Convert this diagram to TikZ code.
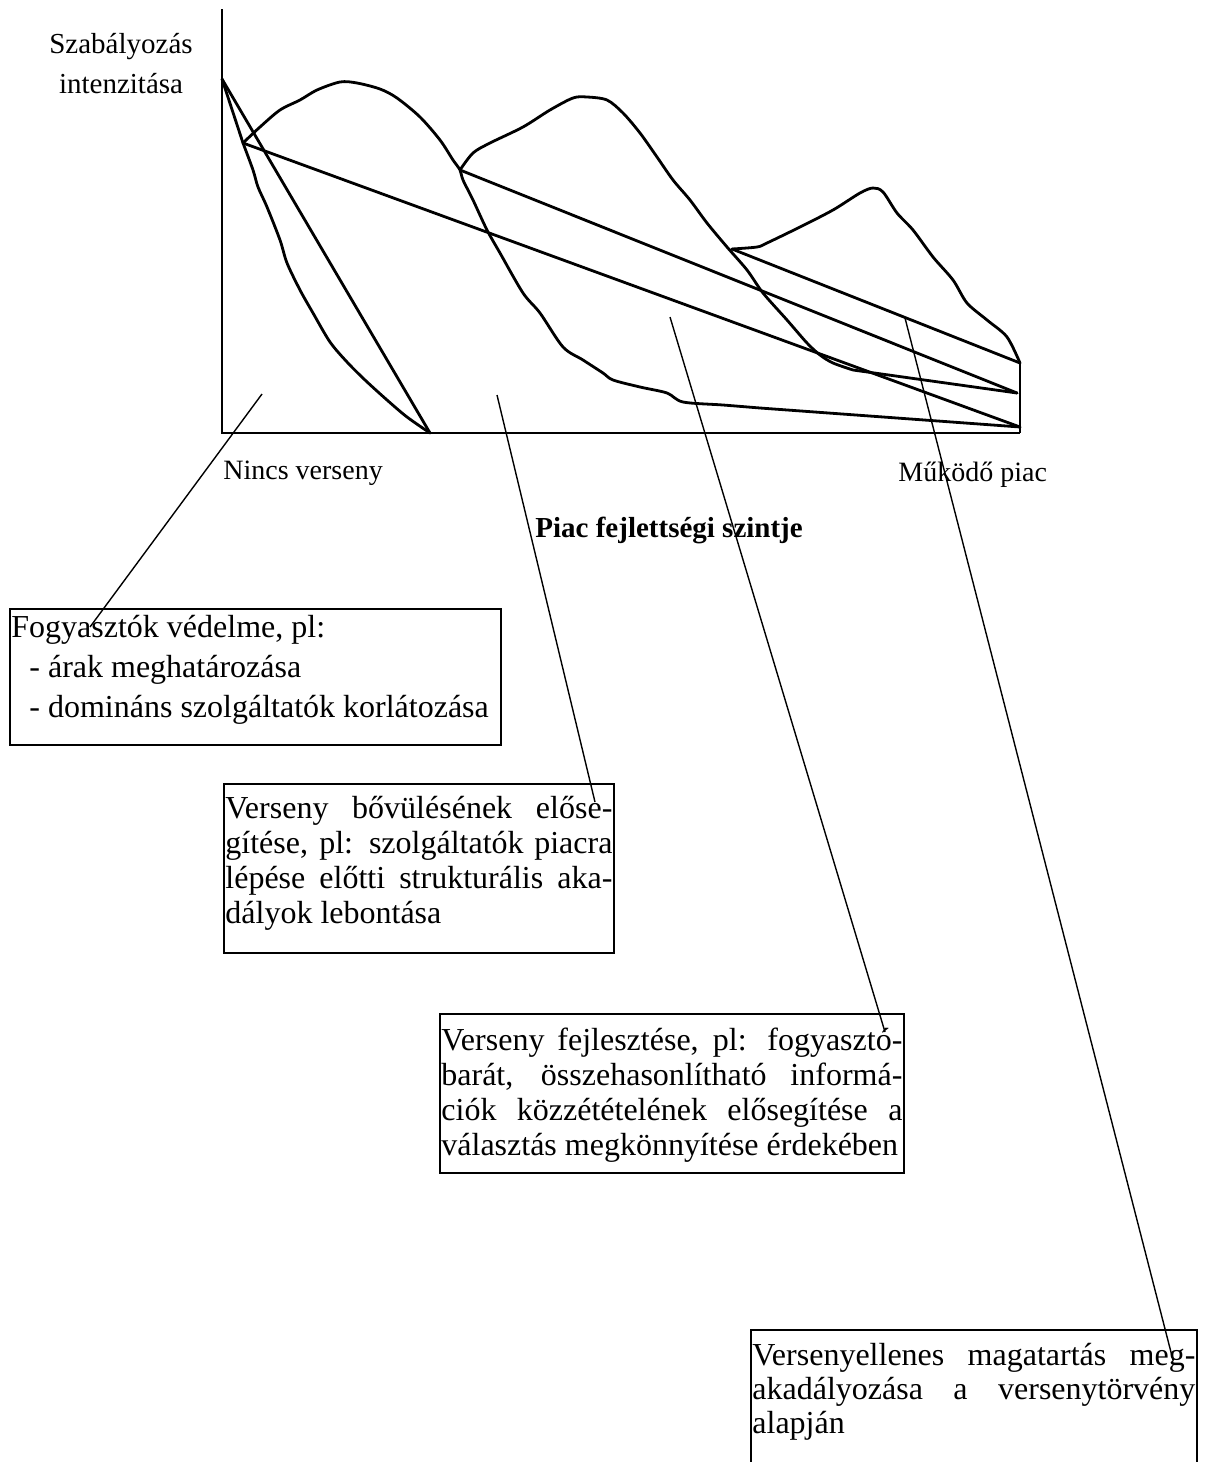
\documentclass[tikz,border=0pt]{standalone}
\usepackage{fontspec}
\setmainfont{Liberation Serif}
\newcommand{\bxt}[3]{\parbox[t]{#1}{\fontsize{16pt}{#2}\selectfont #3}}
\newcommand{\jline}[1]{\makebox[\linewidth][s]{#1}}
\tikzset{
  curve/.style={line width=1.4pt, line join=round, line cap=round},
  axisline/.style={line width=1.2pt},
  callout/.style={line width=0.7pt},
  textbox/.style={draw, line width=0.9pt, inner sep=0pt, anchor=north west},
  boxtxt/.style={inner sep=0pt, anchor=base west},
  lbl/.style={inner sep=0pt, font=\fontsize{14pt}{16pt}\selectfont},
}
\begin{document}
\begin{tikzpicture}[x=0.5pt,y=-0.5pt]
\useasboundingbox (0,0) rectangle (1212,1462);
\fill[white] (0,0) rectangle (1212,1462);
\clip (0,0) rectangle (1212,1462);

% key points
\coordinate (A) at (222,79);
\coordinate (B) at (243,143);
\coordinate (C) at (430,433);
\coordinate (L2) at (460,170);
\coordinate (L3) at (732,249);
\coordinate (R1) at (1020,427);
\coordinate (R2) at (1017,393);
\coordinate (R3) at (1020,363);
\coordinate (O) at (222,433);
\coordinate (Ytop) at (222,9);
\coordinate (Xend) at (1020,433);

% axes
\draw[axisline] (Ytop) -- (O) -- (Xend);
\draw[axisline] (R3) -- (Xend);

% labels
\node[lbl, anchor=base, font=\fontsize{14.5pt}{16pt}\selectfont] (ylab1) at (121,53) {Szabályozás};
\node[lbl, anchor=base, font=\fontsize{14.5pt}{16pt}\selectfont] (ylab2) at (121,93) {intenzitása};
\node[lbl, anchor=base west] (xl) at (223,479) {Nincs verseny};
\node[lbl, anchor=base west] (xr) at (898,481) {Működő piac};
\node[inner sep=0pt, anchor=base west, font=\fontsize{14.5pt}{17pt}\selectfont\bfseries] (xtitle) at (535,537) {Piac fejlettségi szintje};

% curves
\draw[curve] (A) -- (B);
\draw[curve] plot[smooth, tension=0.5] coordinates {(243,143) (253,170) (258,187) (267,207) (280,240) (287,263) (300,290) (313,313) (330,342) (347,362) (365,380) (387,400) (407,417) (430,433)};
\draw[curve] (A) -- (C);
\draw[curve] plot[smooth, tension=0.5] coordinates {(243,143) (260,127) (280,110) (300,100) (317,90) (340,82) (357,83) (380,89) (397,98) (420,117) (440,140) (453,160) (460,170) (463,180) (473,200) (487,230) (500,253) (523,293) (540,313) (563,347) (583,360) (603,373) (613,380) (640,387) (667,393) (683,402) (723,405) (760,408)} -- (R1);
\draw[curve] plot[smooth, tension=0.5] coordinates {(460,170) (473,153) (490,143) (523,127) (550,110) (573,98) (587,97) (607,100) (623,113) (640,133) (657,157) (673,180) (690,200) (707,223) (727,247) (747,270) (763,293) (787,320) (807,343) (820,355) (833,363) (853,370)} -- (R2);
\draw[curve] plot[smooth, tension=0.5] coordinates {(732,249) (757,247) (767,243) (800,227) (833,210) (860,193) (873,188) (883,192) (897,213) (913,230) (933,257) (953,280) (967,303) (987,320) (1007,337) (1020,363)};
\draw[curve] (B) -- (R1);
\draw[curve] (L2) -- (R2);
\draw[curve] (L3) -- (R3);

% boxes
\node[textbox, minimum width=245.5pt, minimum height=68pt] (b1) at (9,608) {};
\node[boxtxt] (t1) at (11,637) {\bxt{240pt}{20pt}{Fogyasztók védelme, pl:\\
\hspace*{9pt}- árak meghatározása\\
\hspace*{9pt}- domináns szolgáltatók korlátozása}};

\node[textbox, minimum width=195pt, minimum height=84.5pt] (b2) at (223,783) {};
\node[boxtxt] (t2) at (225,818) {\bxt{193.5pt}{17.5pt}{\jline{Verseny bővülésének előse-}\\
\jline{gítése, pl: szolgáltatók piacra}\\
\jline{lépése előtti strukturális aka-}\\
dályok lebontása}};

\node[textbox, minimum width=232pt, minimum height=79.5pt] (b3) at (439,1013) {};
\node[boxtxt] (t3) at (441,1050) {\bxt{230.5pt}{17.5pt}{\jline{Verseny fejlesztése, pl: fogyasztó-}\\
\jline{barát, összehasonlítható informá-}\\
\jline{ciók közzétételének elősegítése a}\\
választás megkönnyítése érdekében}};

\node[textbox, minimum width=223pt, minimum height=75pt] (b4) at (750,1329) {};
\node[boxtxt] (t4) at (752,1365) {\bxt{221.5pt}{17pt}{\jline{Versenyellenes magatartás meg-}\\
\jline{akadályozása a versenytörvény}\\
alapján}};

% callout lines
\coordinate (p1) at (262,394);
\coordinate (q1) at (90,627);
\coordinate (p2) at (497,395);
\coordinate (q2) at (595,802);
\coordinate (p3) at (670,317);
\coordinate (q3) at (885,1032);
\coordinate (p4) at (905,318);
\coordinate (q4) at (1173,1360);
\draw[callout] (p1) -- (q1);
\draw[callout] (p2) -- (q2);
\draw[callout] (p3) -- (q3);
\draw[callout] (p4) -- (q4);
\end{tikzpicture}
\end{document}
